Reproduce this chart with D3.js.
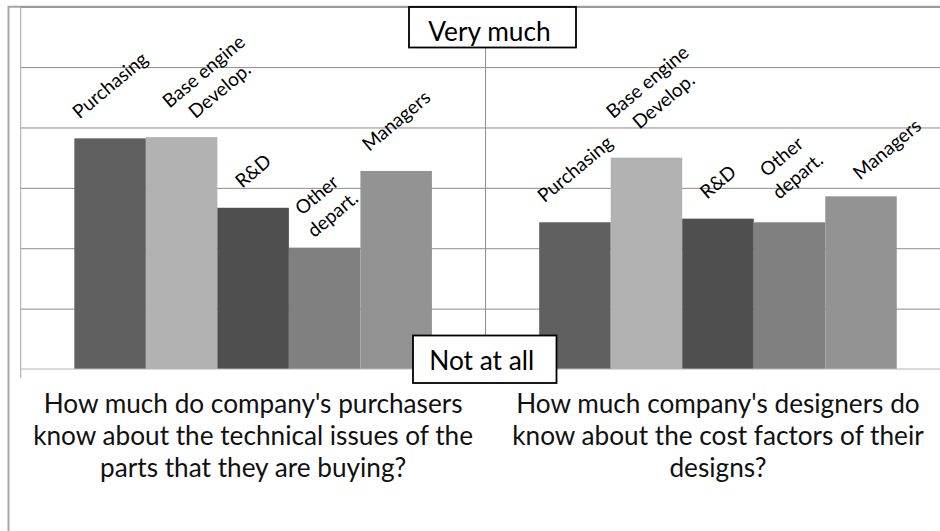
<!DOCTYPE html>
<html>
<head>
<meta charset="utf-8">
<script src="https://cdn.jsdelivr.net/npm/d3@7"></script>
<style>
  html, body { margin: 0; padding: 0; background: #fff; }
  svg { display: block; font-family: Lato, "Open Sans", sans-serif; }
</style>
</head>
<body>
<svg id="chart" width="940" height="531"></svg>
<script>
// Survey answers per department, on a 0 (not at all) .. 6 (very much) scale
const departments = ["Purchasing", "Base engine\nDevelop.", "R&D", "Other\ndepart.", "Managers"];
const purchasersKnowTechnical = [3.82, 3.84, 2.67, 2.01, 3.28];
const designersKnowCosts = [2.43, 3.50, 2.49, 2.43, 2.86];
const questionLines = [
  ["How much do company's purchasers", "know about the technical issues of the", "parts that they are buying?"],
  ["How much company's designers do", "know about the cost factors of their", "designs?"]
];
const scaleTicks = [0, 1, 2, 3, 4, 5, 6];
const scaleTop = "Very much";
const scaleBottom = "Not at all";
const deptColors = ["#606060", "#b2b2b2", "#4f4f4f", "#808080", "#939393"];

const series = [purchasersKnowTechnical, designersKnowCosts];

const W = 940, H = 531;
const plot = { left: 20.7, right: 950.4, top: 6.7, bottom: 369 };

const svg = d3.select("#chart");

const x0 = d3.scaleBand().domain(d3.range(series.length)).range([plot.left, plot.right]);
const x1 = d3.scaleBand().domain(departments).range([0, x0.bandwidth()]).paddingOuter(0.75);
const y = d3.scaleLinear().domain([0, 6]).range([plot.bottom, plot.top]);
const color = d3.scaleOrdinal().domain(departments).range(deptColors);

// outer chart frame (left and top edges)
svg.append("path")
  .attr("d", `M8.5,${H} V${plot.top} H${W}`)
  .attr("fill", "none").attr("stroke", "#a6a6a6").attr("stroke-width", 2);

// horizontal gridlines
const grid = svg.append("g")
  .attr("transform", `translate(${plot.left},0)`)
  .call(d3.axisLeft(y).tickValues(scaleTicks.filter(t => t > 0)).tickSize(-(W - plot.left)).tickFormat(""));
grid.select(".domain").remove();
grid.selectAll(".tick line").attr("stroke", "#8c8c8c").attr("stroke-width", 1);

// vertical divider between the two questions
svg.append("line")
  .attr("x1", x0(1)).attr("x2", x0(1))
  .attr("y1", plot.top).attr("y2", plot.bottom)
  .attr("stroke", "#8c8c8c");

// bars
const groups = svg.append("g").selectAll("g")
  .data(series)
  .join("g")
  .attr("transform", (d, i) => `translate(${x0(i)},0)`);

groups.selectAll("rect")
  .data(d => d.map((v, j) => ({ dept: departments[j], value: v })))
  .join("rect")
  .attr("x", d => x1(d.dept))
  .attr("y", d => y(d.value))
  .attr("width", x1.bandwidth())
  .attr("height", d => y(0) - y(d.value))
  .attr("fill", d => color(d.dept));

// axes: value axis line and category axis line with boundary ticks
svg.append("line")
  .attr("x1", plot.left).attr("x2", plot.left)
  .attr("y1", plot.top).attr("y2", plot.bottom + 9)
  .attr("stroke", "#a6a6a6");
svg.append("line")
  .attr("x1", plot.left).attr("x2", W)
  .attr("y1", plot.bottom).attr("y2", plot.bottom)
  .attr("stroke", "#b4b4b4");
svg.append("line")
  .attr("x1", x0(1)).attr("x2", x0(1))
  .attr("y1", plot.bottom).attr("y2", plot.bottom + 9)
  .attr("stroke", "#b4b4b4");

// rotated department labels above each bar
const angle = -40;
const labelSize = 19, labelLine = 25;
// hand-moved labels (extra dx, dy in px) keyed by question index and department
const labelMoves = {
  "0|Base engine\nDevelop.": [30, 0],
  "1|Base engine\nDevelop.": [9, -10],
  "1|Other\ndepart.": [0, -13],
  "1|Managers": [26, 3]
};
series.forEach((vals, gi) => {
  vals.forEach((v, j) => {
    const dept = departments[j];
    const lines = dept.split("\n");
    const g = svg.append("g");
    const t = g.append("text")
      .attr("text-anchor", "middle")
      .attr("font-size", labelSize)
      .attr("fill", "#000");
    lines.forEach((ln, k) => {
      t.append("tspan")
        .attr("x", 0)
        .attr("y", (k - (lines.length - 1) / 2) * labelLine)
        .attr("dy", "0.35em")
        .text(ln);
    });
    const w = d3.max(t.selectAll("tspan").nodes(), n => n.getComputedTextLength());
    const mv = labelMoves[gi + "|" + dept] || [0, 0];
    const cx = x0(gi) + x1(dept) + x1.bandwidth() / 2 + mv[0];
    const cy = y(v) - (w / 2) * Math.sin(-angle * Math.PI / 180) - 24 + mv[1];
    g.attr("transform", `translate(${cx},${cy}) rotate(${angle})`);
  });
});

// question texts under each group
questionLines.forEach((lines, gi) => {
  const cx = x0(gi) + x0.bandwidth() / 2;
  svg.append("text")
    .attr("text-anchor", "middle")
    .attr("font-size", 26.2)
    .attr("fill", "#111")
    .selectAll("tspan")
    .data(lines)
    .join("tspan")
    .attr("x", cx)
    .attr("y", (d, k) => 413.3 + k * 31.7)
    .text(d => d);
});

// scale end boxes
function endBox(x, yTop, w, h, label, baseline) {
  svg.append("rect")
    .attr("x", x).attr("y", yTop).attr("width", w).attr("height", h)
    .attr("fill", "#fff").attr("stroke", "#000").attr("stroke-width", 1.8);
  svg.append("text")
    .attr("x", x + w / 2 - 3).attr("y", baseline)
    .attr("text-anchor", "middle")
    .attr("font-size", 26.3)
    .attr("fill", "#000")
    .text(label);
}
endBox(409, 7, 167, 40.5, scaleTop, 40.5);
endBox(413, 335.5, 143.5, 47.5, scaleBottom, 370);
</script>
</body>
</html>
